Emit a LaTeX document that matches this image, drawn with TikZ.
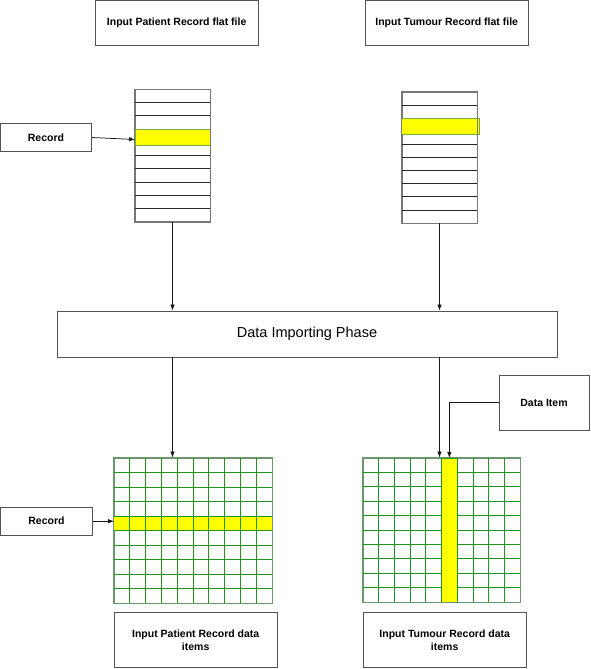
\documentclass[tikz,border=0pt]{standalone}
\usepackage{fontspec}
\setmainfont{Liberation Sans}
\usetikzlibrary{arrows.meta,calc}
\definecolor{boxline}{RGB}{85,85,85}
\definecolor{gridgreen}{RGB}{30,150,30}
\definecolor{gridedge}{RGB}{110,150,110}
\definecolor{hl}{RGB}{255,255,0}
\definecolor{hledge}{RGB}{120,170,60}
\tikzset{
  box/.style={draw=boxline, line width=0.8pt, fill=white, inner sep=0pt,
    font=\fontsize{10.5}{12.5}\selectfont\bfseries, align=center},
  phasebox/.style={box, font=\fontsize{14.5}{17}\selectfont},
  arr/.style={-{Latex[length=6pt,width=4.5pt]}, line width=0.75pt, draw=black!90},
  stackbox/.style={draw=boxline!80, line width=0.8pt, inner sep=0pt},
  rowline/.style={draw=black!85, line width=0.7pt},
  gridbox/.style={draw=gridedge, line width=0.8pt, inner sep=0pt},
  gline/.style={draw=gridgreen, line width=0.8pt},
  hlrow/.style={fill=hl, draw=hledge, line width=0.6pt}
}
\begin{document}
\begin{tikzpicture}[x=1pt,y=-1pt]
\useasboundingbox (0,0) rectangle (590,669);

% top boxes
\node[box, minimum width=163pt, minimum height=45pt] (pf) at (176.7,22.8) {Input Patient Record flat file};
\node[box, minimum width=163pt, minimum height=45pt] (tf) at (446.7,22.8) {Input Tumour Record flat file};

% left stack
\node[stackbox, minimum width=75pt, minimum height=132.4pt] (ls) at (172.5,155.5) {};
\foreach \i in {1,...,9} \draw[rowline] (135,{89.3+\i*13.24}) -- (210,{89.3+\i*13.24});
\draw[hlrow] (135,129.3) rectangle (210,145);
\draw[draw=boxline!80, line width=0.8pt] (ls.north west) rectangle (ls.south east);

% right stack
\node[stackbox, minimum width=75pt, minimum height=131pt] (rs) at (439.5,157.5) {};
\foreach \i in {1,...,9} \draw[rowline] (402,{92+\i*13.1}) -- (477,{92+\i*13.1});
\draw[hlrow] (401.5,118.5) rectangle (479,134);
\draw[draw=boxline!80, line width=0.8pt] (rs.north west) rectangle (rs.south east);

% record box (top)
\node[box, minimum width=91pt, minimum height=28.4pt] (rec1) at (46,137.5) {Record};
\coordinate (ly) at (135,139.5);
\draw[arr] (rec1.east) -- (ly);

% data importing phase
\node[phasebox, minimum width=500pt, minimum height=46pt] (dip) at (307,334) {Data Importing Phase};
\draw[arr] (ls.south) -- (ls.south |- dip.north);
\draw[arr] (rs.south) -- (rs.south |- dip.north);

% left grid
\node[gridbox, minimum width=158pt, minimum height=145pt] (lg) at (193,530.5) {};
\draw[fill=hl, draw=none] (114,{458+4*14.5}) rectangle (272,{458+5*14.5});
\foreach \i in {1,...,9} {
  \draw[gline] ({114+\i*15.8},458) -- ({114+\i*15.8},603);
  \draw[gline] (114,{458+\i*14.5}) -- (272,{458+\i*14.5});
}
\draw[gridbox] (lg.north west) rectangle (lg.south east);
\draw[arr] (ls.south |- dip.south) -- (ls.south |- lg.north);

% right grid
\node[gridbox, minimum width=157pt, minimum height=144pt] (rg) at (441.5,530) {};
\foreach \i in {1,...,9} {
  \draw[gline] ({363+\i*15.7},458) -- ({363+\i*15.7},602);
  \draw[gline] (363,{458+\i*14.4}) -- (520,{458+\i*14.4});
}
\draw[fill=hl, draw=gridgreen, line width=0.8pt] ({363+5*15.7},458) rectangle ({363+6*15.7},602);
\draw[gridbox] (rg.north west) rectangle (rg.south east);
\draw[arr] (rs.south |- dip.south) -- (rs.south |- rg.north);

% record box (bottom)
\node[box, minimum width=92pt, minimum height=27.7pt] (rec2) at (46.5,521.2) {Record};
\coordinate (lry) at (114,521.2);
\draw[arr] (rec2.east) -- (lry);

% data item
\node[box, minimum width=90pt, minimum height=55pt] (di) at (544,402.5) {Data Item};
\coordinate (ycol) at ({363+5.5*15.7},458);
\draw[arr] (di.west) -| (ycol);

% bottom boxes
\node[box, minimum width=163pt, minimum height=55.4pt] (pd) at (195.7,640) {Input Patient Record data\\items};
\node[box, minimum width=163pt, minimum height=55.4pt] (td) at (444.7,640) {Input Tumour Record data\\items};
\end{tikzpicture}
\end{document}
